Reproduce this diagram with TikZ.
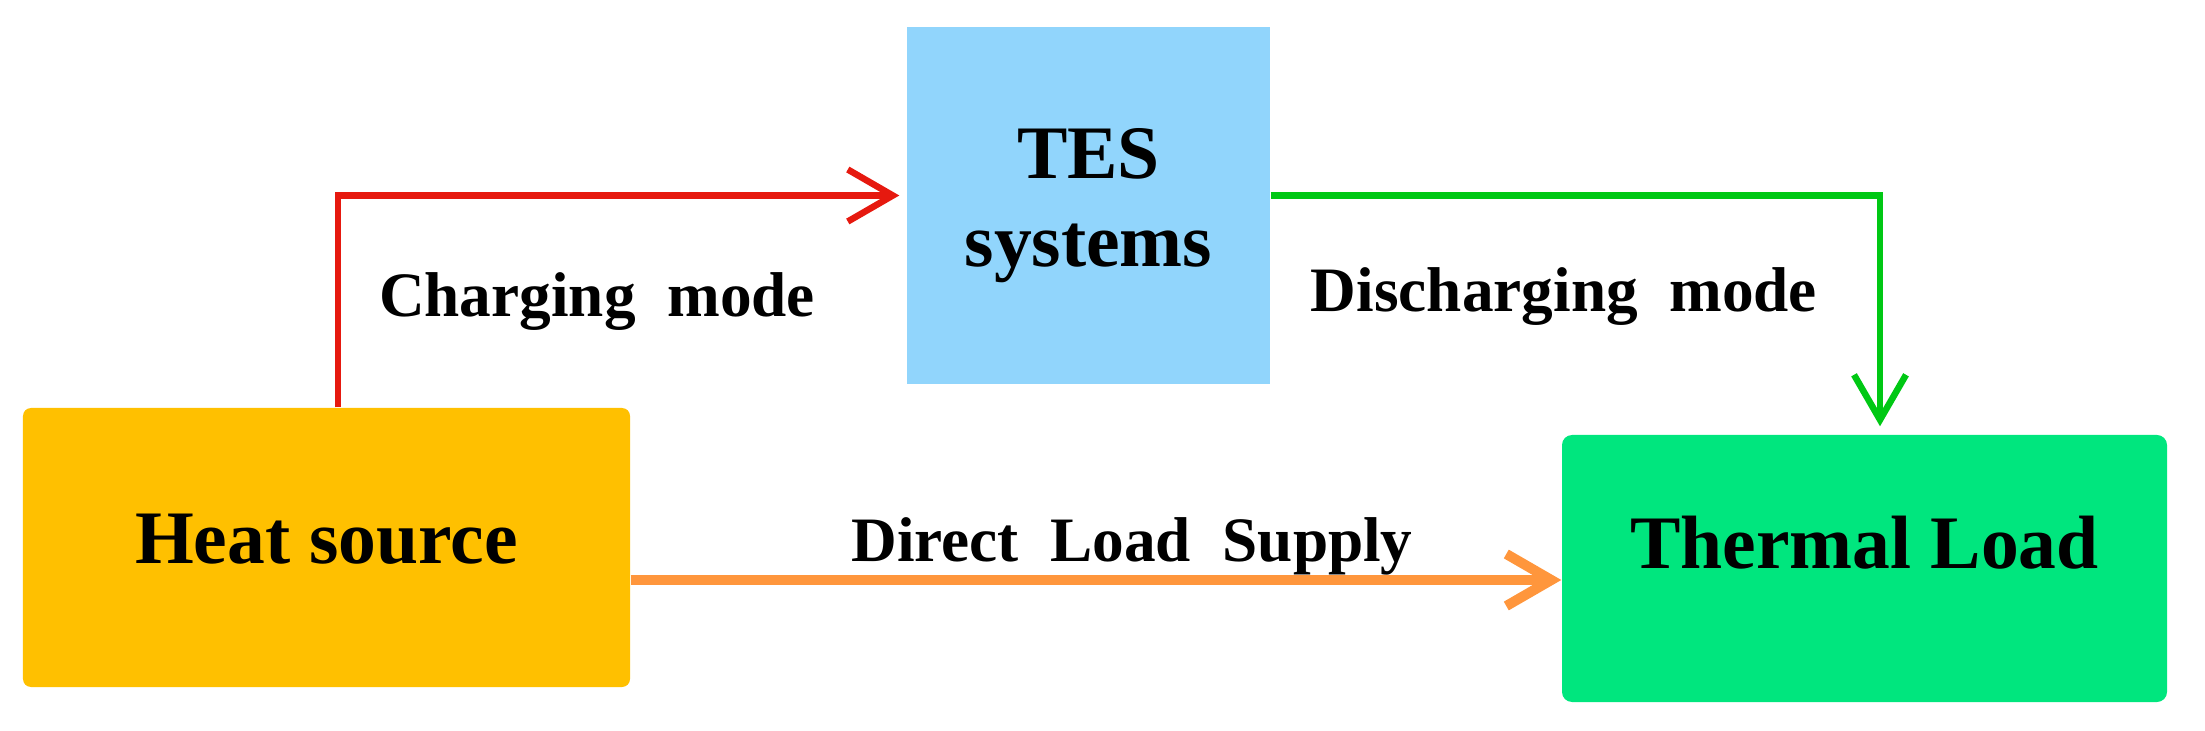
\documentclass[tikz,border=0pt]{standalone}
\usepackage{fontspec}
\setmainfont{Liberation Serif}
\usepackage{xcolor}
\usepackage{tikz}
\usetikzlibrary{positioning,arrows.meta}
\definecolor{heatcol}{RGB}{255,192,0}
\definecolor{tescol}{RGB}{145,213,252}
\definecolor{loadcol}{RGB}{0,230,126}
\definecolor{chgline}{RGB}{230,25,15}
\definecolor{disline}{RGB}{0,200,20}
\definecolor{dirline}{RGB}{255,150,60}

\begin{document}
\begin{tikzpicture}[>={Straight Barb[length=4.5mm,width=5.2mm]},
  blk/.style={align=center, inner sep=0pt, font=\fontsize{21.5}{25}\selectfont\bfseries},
  lbl/.style={anchor=base, inner sep=0pt, font=\fontsize{18}{21}\selectfont\bfseries}]
\useasboundingbox (0,0) rectangle (22.05,7.30);
\node[blk, fill=heatcol, rounded corners=0.8mm, minimum width=6.07cm, minimum height=2.79cm, text height=0.51cm, text depth=0.18cm] (heat) at (3.265,1.825) {Heat source};
\node[blk, fill=tescol, minimum width=3.63cm, minimum height=3.57cm] (tes) at (10.885,5.245) {TES\\systems};
\node[blk, fill=loadcol, rounded corners=1mm, minimum width=6.05cm, minimum height=2.67cm, text height=0.51cm, text depth=0.51cm] (load) at (18.645,1.615) {Thermal Load};
\node[lbl] (chg) at (5.97,4.13) {Charging\ \ mode};
\node[lbl] (dis) at (15.64,4.18) {Discharging\ \ mode};
\node[lbl] (dir) at (11.32,1.69) {Direct\ \ Load\ \ Supply};
% connectors
\draw[->, draw=chgline, line width=1.85pt, shorten >=0.7mm] ([xshift=1.15mm]heat.north) |- ([yshift=1mm]tes.west);
\draw[->, draw=disline, line width=1.85pt, shorten >=0.8mm] ([yshift=1mm]tes.east) -| ([xshift=1.55mm]load.north);
\draw[->, draw=dirline, line width=2.85pt] ([yshift=-3.25mm]heat.east) -- ([yshift=-3.25mm]heat.east -| load.west);
\end{tikzpicture}
\end{document}
